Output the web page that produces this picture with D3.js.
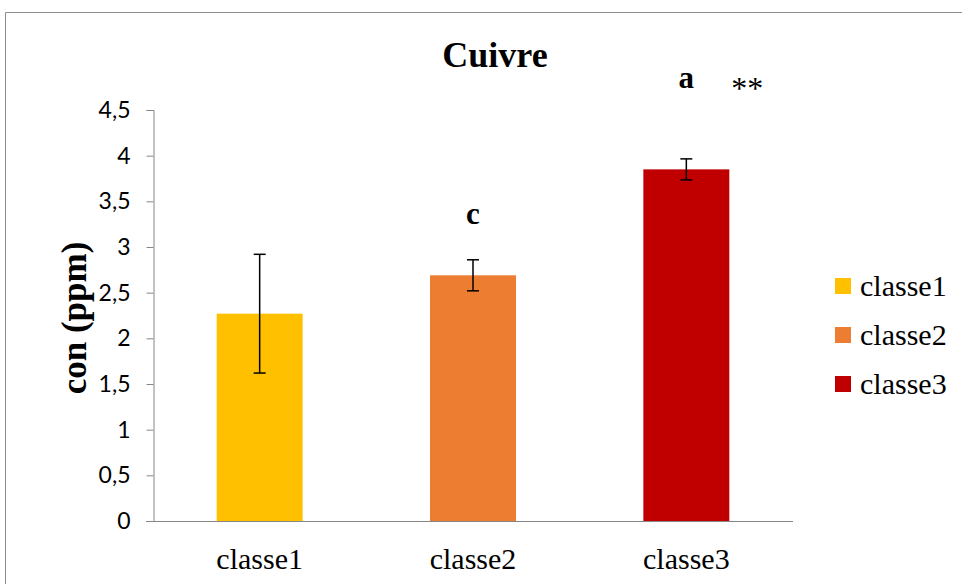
<!DOCTYPE html>
<html>
<head>
<meta charset="utf-8">
<script src="https://cdn.jsdelivr.net/npm/d3@7"></script>
<style>
  body { margin: 0; background: #fff; }
  svg { display: block; }
</style>
</head>
<body>
<svg id="chart"></svg>
<script>
// donnees
const categories = ["classe1", "classe2", "classe3"];
const valeurs = [2.27, 2.69, 3.85];
const erreurs = [0.65, 0.17, 0.115];
const lettres = ["", "c", "a"];
const lettres_y = [0, 3.25, 4.74]; // hauteur des lettres (unites de l'axe)
const couleurs = ["#FFC000", "#ED7D31", "#C00000"];
const ticks_y = [0, 0.5, 1, 1.5, 2, 2.5, 3, 3.5, 4, 4.5];

const SERIF = "'Liberation Serif', 'Times New Roman', serif";
const SANS = "Lato, 'Open Sans', sans-serif";

const W = 962, H = 584;
const svg = d3.select("#chart").attr("width", W).attr("height", H);

// cadre
svg.append("path")
  .attr("d", "M5.5,584 L5.5,12.5 L962,12.5")
  .attr("fill", "none")
  .attr("stroke", "#8c8c8c")
  .attr("stroke-width", 1);

const x = d3.scaleBand().domain(categories).range([153, 793]).padding(0);
const y = d3.scaleLinear().domain([0, 4.5]).range([521, 110]);
const barW = x.bandwidth() * 0.403;
const cx = d => x(d) + x.bandwidth() / 2;

// axe y
const axeY = d3.axisLeft(y)
  .tickValues(ticks_y)
  .tickSize(7)
  .tickFormat(d => String(d).replace(".", ","));

const gY = svg.append("g").attr("transform", "translate(153.5,0)").call(axeY);
gY.select(".domain").attr("stroke", "#868686");
gY.selectAll(".tick line").attr("stroke", "#868686");
gY.selectAll(".tick text")
  .attr("x", -23)
  .style("font-family", SANS)
  .style("font-size", "23px")
  .attr("fill", "#000");

// barres
svg.selectAll("rect.barre")
  .data(categories)
  .enter()
  .append("rect")
  .attr("class", "barre")
  .attr("x", d => x(d) + (x.bandwidth() - barW) / 2)
  .attr("y", (d, i) => y(valeurs[i]))
  .attr("width", barW)
  .attr("height", (d, i) => y(0) - y(valeurs[i]))
  .attr("fill", (d, i) => couleurs[i]);

// axe x
const axeX = d3.axisBottom(x).tickSize(0).tickPadding(26);
const gX = svg.append("g").attr("transform", "translate(0,521.5)").call(axeX);
gX.select(".domain").attr("stroke", "#868686").attr("d", "M146,0H793");
gX.selectAll(".tick text")
  .style("font-family", SERIF)
  .style("font-size", "30px")
  .attr("fill", "#000");

// barres d'erreur
const eb = svg.selectAll("g.err")
  .data(categories)
  .enter()
  .append("g")
  .attr("class", "err")
  .attr("stroke", "#000")
  .attr("stroke-width", 1.5);

eb.append("line")
  .attr("x1", cx).attr("x2", cx)
  .attr("y1", (d, i) => y(valeurs[i] + erreurs[i]))
  .attr("y2", (d, i) => y(valeurs[i] - erreurs[i]));
eb.append("line")
  .attr("x1", d => cx(d) - 6).attr("x2", d => cx(d) + 6)
  .attr("y1", (d, i) => y(valeurs[i] + erreurs[i]))
  .attr("y2", (d, i) => y(valeurs[i] + erreurs[i]));
eb.append("line")
  .attr("x1", d => cx(d) - 6).attr("x2", d => cx(d) + 6)
  .attr("y1", (d, i) => y(valeurs[i] - erreurs[i]))
  .attr("y2", (d, i) => y(valeurs[i] - erreurs[i]));

// lettres de significativite
svg.selectAll("text.lettre")
  .data(categories)
  .enter()
  .append("text")
  .attr("class", "lettre")
  .attr("x", cx)
  .attr("y", (d, i) => y(lettres_y[i]))
  .attr("text-anchor", "middle")
  .style("font-family", SERIF)
  .style("font-weight", "bold")
  .style("font-size", "31px")
  .text((d, i) => lettres[i]);

svg.append("text")
  .attr("x", cx("classe3") + 61)
  .attr("y", y(4.74) + 11)
  .attr("text-anchor", "middle")
  .style("font-family", SERIF)
  .style("font-size", "32px")
  .text("**");

// titre
svg.append("text")
  .attr("x", 495)
  .attr("y", 67)
  .attr("text-anchor", "middle")
  .style("font-family", SERIF)
  .style("font-weight", "bold")
  .style("font-size", "36px")
  .text("Cuivre");

// titre axe y
svg.append("text")
  .attr("transform", "translate(86,318) rotate(-90)")
  .attr("text-anchor", "middle")
  .style("font-family", SERIF)
  .style("font-weight", "bold")
  .style("font-size", "35px")
  .text("con (ppm)");

// legende
const leg = svg.selectAll("g.leg")
  .data(categories)
  .enter()
  .append("g")
  .attr("class", "leg")
  .attr("transform", (d, i) => `translate(835,${278 + i * 49})`);

leg.append("rect")
  .attr("width", 16)
  .attr("height", 16)
  .attr("fill", (d, i) => couleurs[i]);

leg.append("text")
  .attr("x", 25)
  .attr("y", 18)
  .style("font-family", SERIF)
  .style("font-size", "30px")
  .text(d => d);
</script>
</body>
</html>
